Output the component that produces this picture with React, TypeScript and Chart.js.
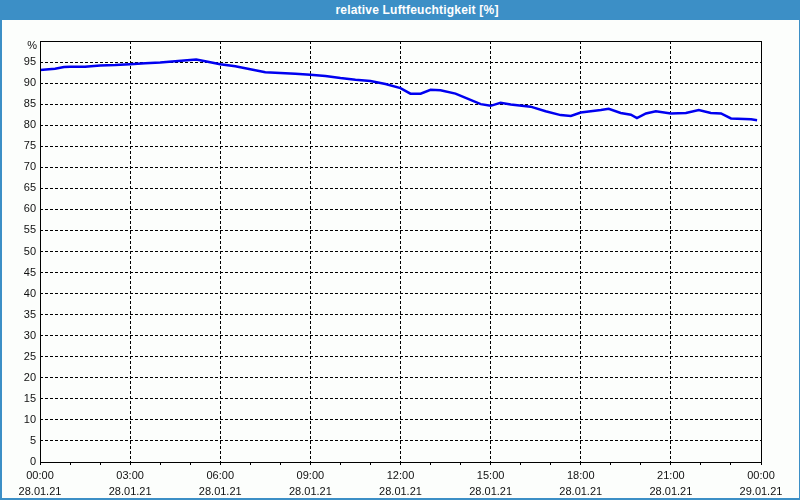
import React, { useEffect, useRef } from "react";
import { Chart, registerables } from "chart.js";

Chart.register(...registerables);

const TITLE = "relative Luftfeuchtigkeit [%]";
const HOURS = [0, 0.5, 0.8, 1.0, 1.5, 2.0, 2.5, 3.0, 3.5, 4.0, 4.5, 5.0, 5.2, 5.5, 6.0, 6.5, 7.0, 7.5, 8.0, 8.5, 9.0, 9.5, 10.0, 10.5, 11.0, 11.5, 12.0, 12.33, 12.67, 13.0, 13.33, 13.83, 14.33, 14.67, 15.0, 15.33, 15.67, 16.33, 16.83, 17.33, 17.67, 18.0, 18.67, 18.93, 19.33, 19.67, 19.87, 20.17, 20.5, 21.0, 21.5, 21.93, 22.33, 22.67, 23.0, 23.67, 23.87];
const HUMIDITY = [93.1, 93.4, 93.8, 93.9, 93.9, 94.2, 94.3, 94.5, 94.7, 94.9, 95.2, 95.5, 95.6, 95.2, 94.5, 94.0, 93.3, 92.6, 92.4, 92.2, 92.0, 91.7, 91.2, 90.8, 90.5, 89.8, 88.8, 87.5, 87.5, 88.4, 88.3, 87.5, 86.0, 85.0, 84.6, 85.3, 84.9, 84.4, 83.3, 82.4, 82.2, 83.0, 83.6, 83.9, 82.9, 82.5, 81.7, 82.8, 83.3, 82.8, 82.9, 83.6, 82.9, 82.8, 81.6, 81.4, 81.2];
const TIME_LABELS = ["00:00", "03:00", "06:00", "09:00", "12:00", "15:00", "18:00", "21:00", "00:00"];
const DATE_LABELS = ["28.01.21", "28.01.21", "28.01.21", "28.01.21", "28.01.21", "28.01.21", "28.01.21", "28.01.21", "29.01.21"];
const Y_UNIT = "%";

const FONT = "'Liberation Sans', Arial, sans-serif";

export default function App() {
  const ref = useRef<HTMLCanvasElement | null>(null);

  useEffect(() => {
    document.body.style.margin = "0";
    const canvas = ref.current!;
    const framePlugin = {
      id: "frame",
      afterDraw(chart: any) {
        const { ctx, chartArea } = chart;
        ctx.save();
        ctx.strokeStyle = "#000";
        ctx.lineWidth = 1;
        ctx.setLineDash([]);
        ctx.strokeRect(
          Math.round(chartArea.left) + 0.5,
          Math.round(chartArea.top) + 0.5,
          Math.round(chartArea.right - chartArea.left),
          Math.round(chartArea.bottom - chartArea.top)
        );
        ctx.fillStyle = "#111";
        ctx.font = "11px " + FONT;
        ctx.textAlign = "right";
        ctx.textBaseline = "middle";
        ctx.fillText(Y_UNIT, chartArea.left - 3, chartArea.top + 5);
        ctx.restore();
      },
    };
    const chart = new Chart(canvas, {
      type: "line",
      data: {
        datasets: [
          {
            data: HOURS.map((h, i) => ({ x: h, y: HUMIDITY[i] })),
            borderColor: "#0000F0",
            borderWidth: 2.5,
            pointRadius: 0,
            tension: 0,
            fill: false,
          },
        ],
      },
      options: {
        animation: false,
        responsive: false,
        maintainAspectRatio: false,
        layout: { padding: { top: 21, right: 38, left: 0, bottom: 0 } },
        plugins: { legend: { display: false }, tooltip: { enabled: false }, title: { display: false } },
        scales: {
          x: {
            type: "linear",
            min: 0,
            max: 24,
            afterFit: (s: any) => { s.height = 36; },
            afterBuildTicks: (s: any) => {
              const t = [];
              for (let i = 0; i <= 24; i++) t.push({ value: i });
              s.ticks = t;
            },
            ticks: {
              autoSkip: false,
              maxRotation: 0,
              padding: 3,
              color: "#111",
              font: { family: FONT, size: 11, lineHeight: 1.45 },
              callback: (v: any) => {
                const n = Number(v);
                if (n % 3 !== 0) return "";
                const i = n / 3;
                return [TIME_LABELS[i], DATE_LABELS[i]];
              },
            },
            grid: {
              color: (c: any) => (c.tick && c.tick.value % 3 === 0 ? "#000" : "rgba(0,0,0,0)"),
              tickColor: "#000",
              tickLength: 3,
              tickBorderDash: [],
              lineWidth: 1,
            },
            border: { display: false, dash: [3, 2] },
          },
          y: {
            min: 0,
            max: 100,
            afterFit: (s: any) => { s.width = 38; },
            ticks: {
              stepSize: 5,
              padding: 4,
              color: "#111",
              font: { family: FONT, size: 11 },
              callback: (v: any) => (Number(v) === 100 ? "" : String(v)),
            },
            grid: { color: "#000", drawTicks: false, lineWidth: 1 },
            border: { display: false, dash: [3, 2] },
          },
        },
      },
      plugins: [framePlugin],
    } as any);
    return () => chart.destroy();
  }, []);

  return (
    <div style={{ position: "fixed", left: 0, top: 0, width: 800, height: 500, background: "#3C8FC6", overflow: "hidden" }}>
      <div
        style={{
          position: "absolute",
          left: 0,
          top: 0,
          width: 800,
          height: 20,
          lineHeight: "21px",
          color: "#fff",
          fontFamily: FONT,
          fontWeight: "bold",
          fontSize: 12,
          letterSpacing: "0.2px",
          textAlign: "center",
          paddingLeft: 34,
          boxSizing: "border-box",
        }}
      >
        {TITLE}
      </div>
      <div style={{ position: "absolute", left: 2, top: 20, width: 797, height: 478, background: "#FCFEFC" }}>
        <canvas ref={ref} width={797} height={478} style={{ display: "block", width: 797, height: 478 }} />
      </div>
    </div>
  );
}
